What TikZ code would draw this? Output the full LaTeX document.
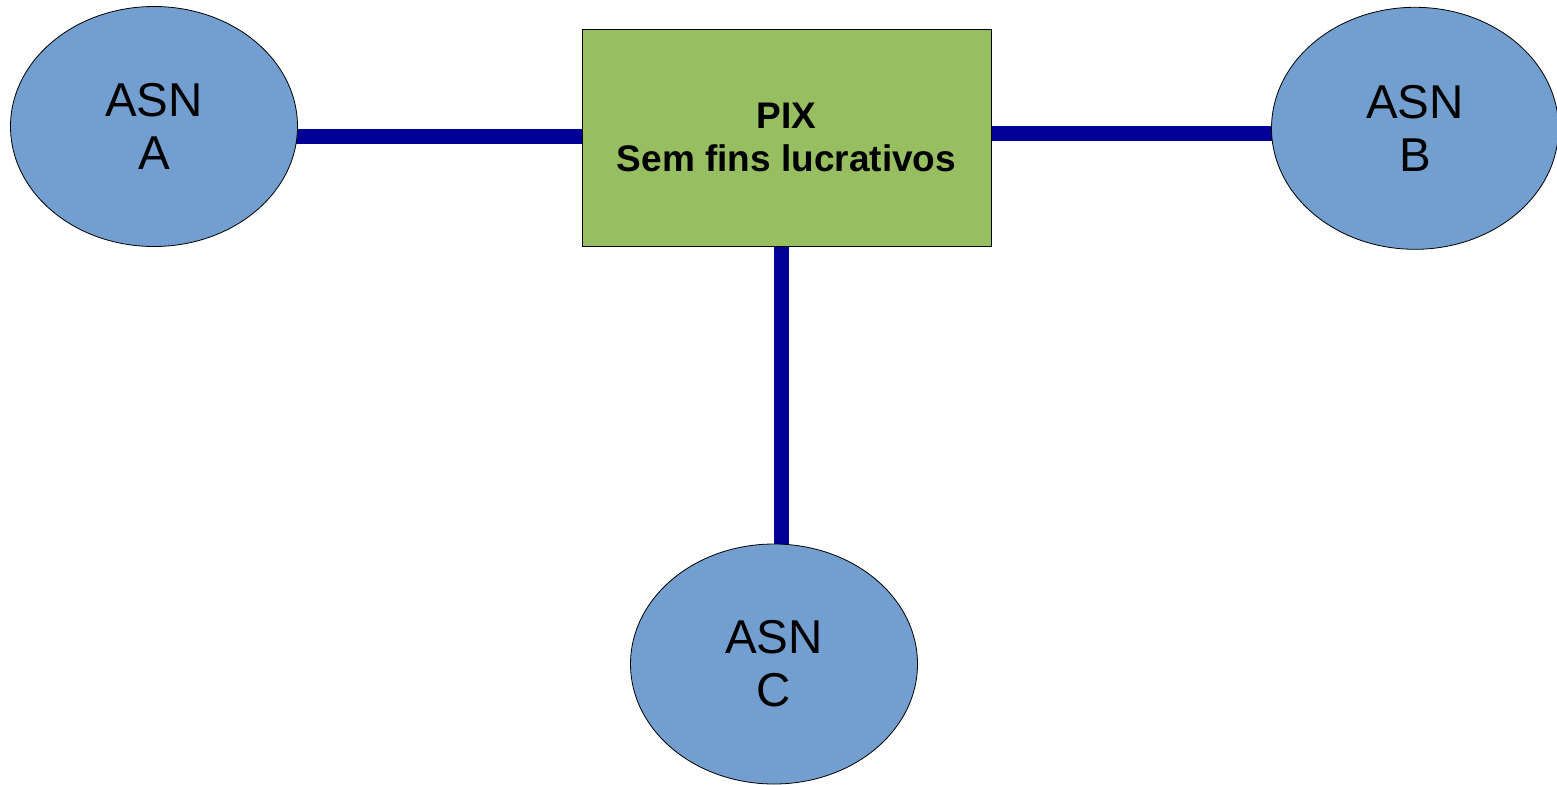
\documentclass[tikz,border=0pt]{standalone}
\usepackage{fontspec}
\setmainfont{Liberation Sans}
\usetikzlibrary{shapes.geometric,backgrounds}

\definecolor{asnblue}{HTML}{729FCF}
\definecolor{pixgreen}{HTML}{97BE61}
\definecolor{linkblue}{HTML}{000099}

\begin{document}
\begin{tikzpicture}[x=1pt,y=-1pt,
    asn node/.style={ellipse,draw,line width=0.8pt,fill=asnblue,inner sep=0pt,
      minimum width=287pt,minimum height=240pt,align=center,
      font=\fontsize{47.5}{53}\selectfont},
    pix node/.style={rectangle,draw,line width=0.8pt,fill=pixgreen,inner sep=0pt,
      minimum width=409pt,minimum height=217pt,align=center,
      font=\fontsize{37}{42.4}\selectfont\bfseries},
    link/.style={draw=linkblue,line width=15pt}]

  \useasboundingbox (0,0) rectangle (1557,784);

  \node[pix node] (pix) at (786.5,137.5) {PIX\\Sem fins lucrativos};
  \node[asn node] (a) at (154,126.5) {ASN\\A};
  \node[asn node,minimum height=242pt] (b) at (1415,128.3) {ASN\\B};
  \node[asn node] (c) at (774,664) {ASN\\C};

  % links behind the shapes
  \begin{scope}[on background layer]
    \draw[link] ([yshift=-9.5pt]a.center) -- ([yshift=-9.5pt]a.center -| pix.center);
    \draw[link] ([yshift=-4.7pt]b.center) -- ([yshift=-4.7pt]b.center -| pix.center);
    \draw[link] ([xshift=7.5pt]c.center) -- ([xshift=7.5pt]c.center |- pix.center);
  \end{scope}
\end{tikzpicture}
\end{document}
